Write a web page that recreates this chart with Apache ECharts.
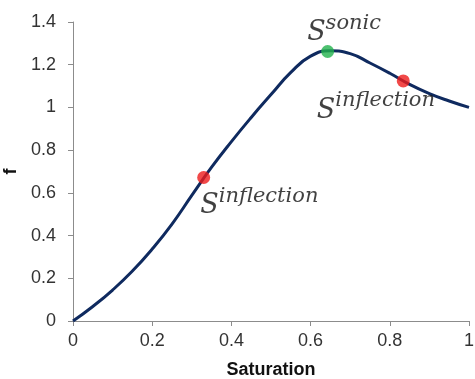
<!DOCTYPE html>
<html>
<head>
<meta charset="utf-8">
<script src="https://cdn.jsdelivr.net/npm/echarts@6/dist/echarts.min.js"></script>
<style>
  html, body { margin: 0; padding: 0; background: #fff; }
  #chart { width: 475px; height: 379px; }
</style>
</head>
<body>
<div id="chart"></div>
<script>
// Flux function f(S) sampled along the saturation axis
const saturation = [0, 0.05, 0.1, 0.15, 0.2, 0.25, 0.3, 0.35, 0.4, 0.45, 0.5,
                    0.55, 0.6, 0.65, 0.7, 0.75, 0.8, 0.85, 0.9, 0.95, 1.0];
const flux = [0, 0.068, 0.145, 0.234, 0.337, 0.454, 0.588, 0.72, 0.84, 0.953, 1.06,
              1.164, 1.24, 1.265, 1.252, 1.208, 1.16, 1.108, 1.065, 1.03, 1.0];

// Special points on the curve
const sonicPoint = [0.643, 1.262];
const inflectionPoints = [[0.33, 0.672], [0.834, 1.124]];

const xTicks = { min: 0, max: 1, interval: 0.2 };
const yTicks = { min: 0, max: 1.4, interval: 0.2 };

const axisGray = '#8c8c8c';
const tickFont = { color: '#333', fontSize: 18, fontFamily: 'Liberation Sans' };
const nameFont = { fontFamily: 'Liberation Sans', fontWeight: 'bold', fontSize: 18, color: '#111' };

// "S" with an italic superscript tag
const sLabel = (sup, pos) => ({
  show: true,
  position: pos,
  formatter: '{s|S}{sup|' + sup + '}',
  align: 'left',
  verticalAlign: 'top',
  rich: {
    s: { fontFamily: 'DejaVu Serif', fontStyle: 'italic', fontSize: 27, color: '#111', verticalAlign: 'bottom', lineHeight: 34 },
    sup: { fontFamily: 'DejaVu Serif', fontStyle: 'italic', fontSize: 21, color: '#111', verticalAlign: 'top', lineHeight: 18 }
  }
});

const chart = echarts.init(document.getElementById('chart'));
chart.setOption({
  animation: false,
  grid: { left: 73, right: 6, top: 22, bottom: 58, containLabel: false, outerBoundsMode: 'none' },
  xAxis: {
    type: 'value', min: xTicks.min, max: xTicks.max, interval: xTicks.interval,
    name: 'Saturation', nameLocation: 'middle', nameGap: 40,
    nameTextStyle: nameFont,
    axisLine: { lineStyle: { color: axisGray, width: 1 } },
    axisTick: { show: true, length: 5, inside: false, lineStyle: { color: axisGray } },
    axisLabel: Object.assign({ margin: 11 }, tickFont),
    splitLine: { show: false }
  },
  yAxis: {
    type: 'value', min: yTicks.min, max: yTicks.max, interval: yTicks.interval,
    name: 'f', nameLocation: 'middle', nameGap: 52,
    nameTextStyle: nameFont,
    axisLine: { show: true, lineStyle: { color: axisGray, width: 1 } },
    axisTick: { show: true, length: 5, inside: false, lineStyle: { color: axisGray } },
    axisLabel: Object.assign({ margin: 17 }, tickFont),
    splitLine: { show: false }
  },
  series: [
    {
      type: 'line',
      data: saturation.map((s, i) => [s, flux[i]]),
      smooth: 0.5,
      showSymbol: false,
      lineStyle: { color: '#0f2a5f', width: 3 },
      z: 2
    },
    {
      type: 'scatter',
      data: [
        { value: inflectionPoints[0], label: sLabel('inflection', [3, 15]) },
        { value: inflectionPoints[1], label: sLabel('inflection', [-80, 16]) }
      ],
      symbolSize: 13,
      itemStyle: { color: '#ee1c1c' },
      z: 3
    },
    {
      type: 'scatter',
      data: [
        { value: sonicPoint, label: sLabel('sonic', [-14, -32]) }
      ],
      symbolSize: 13,
      itemStyle: { color: '#22b14c' },
      z: 3
    }
  ]
});
</script>
</body>
</html>
